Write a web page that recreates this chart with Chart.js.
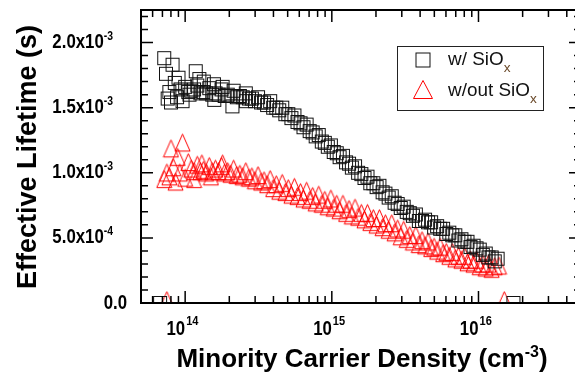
<!DOCTYPE html>
<html>
<head>
<meta charset="utf-8">
<script src="https://cdn.jsdelivr.net/npm/chart.js@4.4.1/dist/chart.umd.min.js"></script>
<style>
  html, body { margin: 0; padding: 0; background: #fff; overflow: hidden; }
  #wrap { width: 590px; height: 375px; }
</style>
</head>
<body>
<div id="wrap"><canvas id="chart" width="590" height="375"></canvas></div>
<script>
/* ── Data (density in cm^-3, lifetime in ms) ── */
// w/ SiOx : scattered low-injection points, then two interleaved sweeps
const densityWith = [
  6.75e13, 7.2e13, 7.4e13, 7.6e13, 7.8e13, 8.0e13, 8.2e13, 8.5e13, 8.8e13, 9.0e13, 9.3e13, 9.6e13,
  1.07e14, 1.18e14, 1.25e14, 1.34e14, 1.57e14, 1.58e14, 1.8e14, 2.1e14, 2.6e14,
  1.00e14, 1.10e14, 1.21e14, 1.33e14, 1.46e14, 1.61e14, 1.77e14, 1.95e14, 2.14e14, 2.36e14,
  2.59e14, 2.85e14, 3.14e14, 3.45e14, 3.80e14, 4.18e14, 4.59e14, 5.05e14, 5.56e14, 6.12e14,
  6.73e14, 7.40e14, 8.14e14, 8.95e14, 9.85e14, 1.08e15, 1.19e15, 1.31e15, 1.44e15, 1.59e15,
  1.75e15, 1.92e15, 2.11e15, 2.32e15, 2.56e15, 2.81e15, 3.09e15, 3.40e15, 3.74e15, 4.12e15,
  4.53e15, 4.98e15, 5.48e15, 6.03e15, 6.63e15, 7.29e15, 8.02e15, 8.82e15, 9.70e15, 1.07e16,
  1.17e16, 1.29e16, 1.35e16, 1.73e16,
  1.05e14, 1.15e14, 1.27e14, 1.39e14, 1.53e14, 1.69e14, 1.86e14, 2.04e14, 2.25e14, 2.47e14,
  2.72e14, 2.99e14, 3.29e14, 3.62e14, 3.98e14, 4.38e14, 4.82e14, 5.30e14, 5.83e14, 6.41e14,
  7.06e14, 7.76e14, 8.54e14, 9.39e14, 1.03e15, 1.13e15, 1.25e15, 1.37e15, 1.51e15, 1.67e15,
  1.83e15, 2.02e15, 2.22e15, 2.44e15, 2.68e15, 2.95e15, 3.24e15, 3.57e15, 3.92e15, 4.32e15,
  4.75e15, 5.22e15, 5.74e15, 6.32e15, 6.95e15, 7.65e15, 8.41e15, 9.25e15, 1.02e16, 1.12e16,
  1.23e16,
];
const lifetimeWithMs = [
  0, 1.88, 1.76, 1.57, 1.62, 1.54, 1.83, 1.69, 1.58, 1.73, 1.64, 1.55,
  1.60, 1.78, 1.72, 1.70, 1.68, 1.56, 1.66, 1.51, 1.55,
  1.66, 1.63, 1.67, 1.62, 1.65, 1.61, 1.64, 1.60, 1.63, 1.59,
  1.61, 1.57, 1.58, 1.54, 1.55, 1.50, 1.50, 1.45, 1.44, 1.38,
  1.37, 1.31, 1.29, 1.23, 1.21, 1.15, 1.13, 1.07, 1.05, 0.99,
  0.97, 0.92, 0.90, 0.84, 0.82, 0.76, 0.74, 0.69, 0.68, 0.63,
  0.62, 0.58, 0.57, 0.53, 0.52, 0.48, 0.47, 0.43, 0.42, 0.37,
  0.35, 0.32, 0.34, 0,
  1.62, 1.64, 1.61, 1.61, 1.60, 1.60, 1.59, 1.59, 1.58, 1.58,
  1.57, 1.55, 1.54, 1.52, 1.50, 1.48, 1.45, 1.42, 1.39, 1.35,
  1.32, 1.28, 1.24, 1.20, 1.16, 1.12, 1.08, 1.04, 1.00, 0.96,
  0.92, 0.89, 0.85, 0.81, 0.77, 0.73, 0.70, 0.67, 0.63, 0.64,
  0.62, 0.59, 0.57, 0.54, 0.52, 0.49, 0.47, 0.44, 0.41, 0.38,
  0.35,
];

// w/out SiOx
const densityWithout = [
  7.5e13, 7.2e13, 7.5e13, 7.8e13, 8.0e13, 8.3e13, 8.6e13, 8.9e13, 9.2e13, 9.6e13,
  1.0e14, 1.05e14, 1.15e14, 1.3e14, 1.5e14, 1.8e14,
  1.10e14, 1.21e14, 1.33e14, 1.46e14, 1.61e14, 1.77e14, 1.95e14, 2.14e14, 2.36e14,
  2.59e14, 2.85e14, 3.14e14, 3.45e14, 3.80e14, 4.18e14, 4.59e14, 5.05e14, 5.56e14, 6.12e14,
  6.73e14, 7.40e14, 8.14e14, 8.95e14, 9.85e14, 1.08e15, 1.19e15, 1.31e15, 1.44e15, 1.59e15,
  1.75e15, 1.92e15, 2.11e15, 2.32e15, 2.56e15, 2.81e15, 3.09e15, 3.40e15, 3.74e15, 4.12e15,
  4.53e15, 4.98e15, 5.48e15, 6.03e15, 6.63e15, 7.29e15, 8.02e15, 8.82e15, 9.70e15, 1.07e16,
  1.17e16, 1.29e16, 1.38e16, 1.5e16,
  1.15e14, 1.27e14, 1.39e14, 1.53e14, 1.69e14, 1.86e14, 2.04e14, 2.25e14, 2.47e14,
  2.72e14, 2.99e14, 3.29e14, 3.62e14, 3.98e14, 4.38e14, 4.82e14, 5.30e14, 5.83e14, 6.41e14,
  7.06e14, 7.76e14, 8.54e14, 9.39e14, 1.03e15, 1.13e15, 1.25e15, 1.37e15, 1.51e15, 1.67e15,
  1.83e15, 2.02e15, 2.22e15, 2.44e15, 2.68e15, 2.95e15, 3.24e15, 3.57e15, 3.92e15, 4.32e15,
  4.75e15, 5.22e15, 5.74e15, 6.32e15, 6.95e15, 7.65e15, 8.41e15, 9.25e15, 1.02e16, 1.12e16,
  1.23e16,
];
const lifetimeWithoutMs = [
  0, 0.93, 0.98, 0.95, 1.165, 1.02, 0.91, 1.10, 0.98, 1.21,
  0.94, 1.06, 0.93, 1.05, 0.95, 1.05,
  1.01, 1.04, 1.00, 1.03, 1.01, 1.03, 0.99, 1.01, 0.97,
  0.99, 0.95, 0.96, 0.92, 0.93, 0.89, 0.90, 0.86, 0.87, 0.83,
  0.84, 0.80, 0.81, 0.77, 0.78, 0.74, 0.74, 0.70, 0.71, 0.67,
  0.67, 0.63, 0.63, 0.59, 0.59, 0.55, 0.54, 0.50, 0.50, 0.46,
  0.45, 0.41, 0.41, 0.37, 0.37, 0.34, 0.34, 0.31, 0.31, 0.28,
  0.28, 0.26, 0.265, 0,
  0.99, 0.99, 0.98, 0.99, 0.99, 0.98, 0.97, 0.96, 0.95,
  0.94, 0.92, 0.91, 0.89, 0.86, 0.84, 0.83, 0.81, 0.80, 0.78,
  0.77, 0.75, 0.74, 0.72, 0.71, 0.69, 0.67, 0.65, 0.64, 0.62,
  0.60, 0.58, 0.56, 0.54, 0.52, 0.49, 0.47, 0.45, 0.43, 0.42,
  0.40, 0.38, 0.36, 0.34, 0.32, 0.31, 0.29, 0.28, 0.26, 0.25,
  0.24,
];

const seriesLabels = ['w/ SiO', 'w/out SiO'];   // + subscript "x"
const xMajorTicks = [1e14, 1e15, 1e16];
const xTickExponents = ['14', '15', '16'];
const yMajorTicks = [0, 5e-4, 1e-3, 1.5e-3, 2e-3];
const yTickBases = ['0.0', '5.0x10', '1.0x10', '1.5x10', '2.0x10'];
const yTickExponents = ['', '-4', '-3', '-3', '-3'];

const BLACK = '#111';
const RED = '#ff0000';
const FONT = '"Liberation Sans", Arial, sans-serif';

/* ── Marker images ── */
function squareMark(side, color) {
  const c = document.createElement('canvas');
  c.width = side + 2; c.height = side + 2;
  const g = c.getContext('2d');
  g.strokeStyle = color; g.lineWidth = 1;
  g.strokeRect(1.5, 1.5, side - 1, side - 1);
  return c;
}
// triangle centred on its centroid
function triangleMark(w, h, color) {
  const c = document.createElement('canvas');
  const cy = Math.ceil(2 * h / 3) + 1;
  c.width = w + 2; c.height = 2 * cy;
  const g = c.getContext('2d');
  const cx = c.width / 2;
  g.strokeStyle = color; g.lineWidth = 1;
  g.beginPath();
  g.moveTo(cx, cy - 2 * h / 3);
  g.lineTo(cx + w / 2, cy + h / 3);
  g.lineTo(cx - w / 2, cy + h / 3);
  g.closePath();
  g.stroke();
  return c;
}

const sqImg = squareMark(14, BLACK);
const triImg = triangleMark(15, 17, RED);

/* ── Text helper: runs of text with own font / offset, scaled in x ── */
function drawRuns(ctx, runs, x, y, align, sx = 1) {
  let total = 0;
  runs.forEach(r => { ctx.font = r.font; r.w = ctx.measureText(r.t).width * sx; total += r.w; });
  let cx = align === 'right' ? x - total : align === 'center' ? x - total / 2 : x;
  runs.forEach(r => {
    ctx.font = r.font;
    ctx.save();
    ctx.translate(cx, y + (r.dy || 0));
    ctx.scale(sx, 1);
    ctx.fillStyle = r.color || '#000';
    ctx.fillText(r.t, 0, 0);
    ctx.restore();
    cx += r.w;
  });
}

/* ── Frame, inward ticks, labels, titles, legend ── */
const decorations = {
  id: 'decorations',
  afterDatasetsDraw(chart) {
    const { ctx, chartArea: a, scales: { x, y } } = chart;
    ctx.save();
    ctx.textAlign = 'left';
    ctx.textBaseline = 'alphabetic';
    ctx.strokeStyle = '#000';

    // frame
    ctx.lineWidth = 2;
    ctx.strokeRect(a.left, a.top, a.right - a.left, a.bottom - a.top);

    // x ticks
    ctx.lineWidth = 1.5;
    const xTick = (v, len) => {
      const px = x.getPixelForValue(v);
      ctx.beginPath();
      ctx.moveTo(px, a.bottom); ctx.lineTo(px, a.bottom - len);
      ctx.moveTo(px, a.top); ctx.lineTo(px, a.top + len);
      ctx.stroke();
    };
    for (let d = 13; d <= 16; d++) {
      for (let m = 1; m <= 9; m++) {
        const v = m * Math.pow(10, d);
        if (v < x.min || v > x.max) continue;
        xTick(v, m === 1 ? 12 : 7);
      }
    }
    // y ticks
    const yTick = (v, len) => {
      const py = y.getPixelForValue(v);
      ctx.beginPath();
      ctx.moveTo(a.left, py); ctx.lineTo(a.left + len, py);
      ctx.moveTo(a.right, py); ctx.lineTo(a.right - len, py);
      ctx.stroke();
    };
    for (let k = 1; k <= 22; k++) yTick(k * 1e-4, k % 5 === 0 ? 12 : 7);

    // x tick labels
    const tickFont = `bold 21px ${FONT}`;
    const supFont = `bold 13px ${FONT}`;
    xMajorTicks.forEach((v, i) => {
      const px = x.getPixelForValue(v);
      drawRuns(ctx, [{ t: '10', font: tickFont }], px, 335, 'right', 0.8);
      drawRuns(ctx, [{ t: xTickExponents[i], font: supFont }], px + 1, 325, 'left', 0.85);
    });

    // y tick labels
    yMajorTicks.forEach((v, i) => {
      const py = y.getPixelForValue(v);
      if (yTickExponents[i]) {
        drawRuns(ctx, [
          { t: yTickBases[i], font: tickFont },
          { t: yTickExponents[i], font: supFont, dy: -8 },
        ], 113, py + 5.5, 'right', 0.8);
      } else {
        drawRuns(ctx, [{ t: yTickBases[i], font: tickFont }], 127, py + 5.5, 'right', 0.8);
      }
    });

    // axis titles
    const titleFont = `bold 26px ${FONT}`;
    drawRuns(ctx, [
      { t: 'Minority Carrier Density (cm', font: titleFont },
      { t: '-3', font: `bold 16px ${FONT}`, dy: -10 },
      { t: ')', font: titleFont },
    ], 362, 367, 'center');

    ctx.save();
    ctx.translate(36, 157);
    ctx.rotate(-Math.PI / 2);
    drawRuns(ctx, [{ t: 'Effective Lifetime (s)', font: `bold 27px ${FONT}` }], 0, 0, 'center');
    ctx.restore();

    // legend
    ctx.lineWidth = 1;
    ctx.strokeStyle = '#222';
    ctx.strokeRect(397.5, 46.5, 146, 64);
    const legSq = squareMark(15, BLACK);
    ctx.drawImage(legSq, 423 - legSq.width / 2, 60 - legSq.height / 2);
    ctx.strokeStyle = RED;
    ctx.beginPath();
    ctx.moveTo(423, 80.5); ctx.lineTo(432.5, 98.5); ctx.lineTo(413.5, 98.5); ctx.closePath();
    ctx.stroke();
    const legFont = `18px ${FONT}`;
    const subFont = `13px ${FONT}`;
    drawRuns(ctx, [
      { t: seriesLabels[0], font: legFont, color: '#111' },
      { t: 'x', font: subFont, dy: 6.5, color: '#6b4a2a' },
    ], 448, 65, 'left', 1.05);
    drawRuns(ctx, [
      { t: seriesLabels[1], font: legFont, color: '#111' },
      { t: 'x', font: subFont, dy: 6.5, color: '#6b4a2a' },
    ], 448, 96, 'left', 1.05);

    ctx.restore();
  },
};

/* ── Chart ── */
const toPoints = (xs, ys) => xs.map((v, i) => ({ x: v, y: ys[i] * 1e-3 }));

new Chart(document.getElementById('chart'), {
  type: 'scatter',
  data: {
    datasets: [
      {
        label: 'w/ SiOx',
        data: toPoints(densityWith, lifetimeWithMs),
        pointStyle: sqImg,
        pointRadius: 8,
        clip: 0,
      },
      {
        label: 'w/out SiOx',
        data: toPoints(densityWithout, lifetimeWithoutMs),
        pointStyle: triImg,
        pointRadius: 8,
        clip: 0,
      },
    ],
  },
  options: {
    responsive: false,
    animation: false,
    events: [],
    layout: { padding: { left: 141, top: 10, right: 7, bottom: 72 } },
    plugins: { legend: { display: false }, tooltip: { enabled: false } },
    scales: {
      x: { type: 'logarithmic', min: 5e13, max: 5e16, display: false },
      y: { type: 'linear', min: 0, max: 2.25e-3, display: false },
    },
  },
  plugins: [decorations],
});
</script>
</body>
</html>
